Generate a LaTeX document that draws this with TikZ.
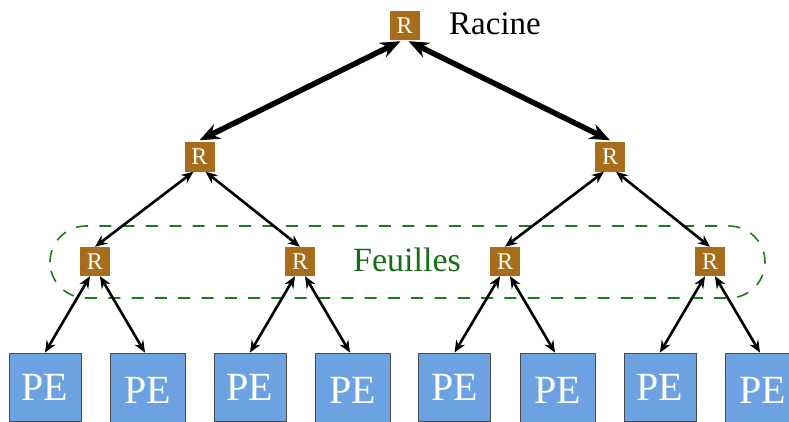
\documentclass[tikz,border=0pt]{standalone}
\usepackage{fontspec}
\setmainfont{Liberation Serif}
\usetikzlibrary{arrows.meta}
\definecolor{rbrown}{RGB}{168,109,26}
\definecolor{peblue}{RGB}{108,162,226}
\definecolor{leafgreen}{RGB}{20,110,20}
\definecolor{dashgreen}{RGB}{25,125,25}
\tikzset{
  rbox/.style={fill=rbrown, text=white, minimum width=30pt, minimum height=29pt, inner sep=0pt, font=\fontsize{24}{24}\selectfont},
  pebox/.style={fill=peblue, draw=black!70, line width=0.8pt, text=white, inner sep=0pt, font=\fontsize{40}{40}\selectfont},
  pel/.style={pebox, minimum width=72pt, minimum height=68pt},
  per/.style={pebox, minimum width=75pt, minimum height=75pt},
  thick link/.style={line width=5.5pt, {Stealth[length=20pt,width=16pt]}-{Stealth[length=20pt,width=16pt]}},
  thin link/.style={line width=2.6pt, {Stealth[length=12pt,width=10pt]}-{Stealth[length=12pt,width=10pt]}},
}
\begin{document}
\begin{tikzpicture}[x=1pt,y=1pt]
\useasboundingbox (0,0) rectangle (789,421);
\clip (0,0) rectangle (789,421);
\fill[white] (0,0) rectangle (789,421);
% leaves group
\draw[dashgreen, line width=1.6pt, dash pattern=on 12pt off 11.3pt, rounded corners=36pt] (50,123) rectangle (765,195);
\node[leafgreen, anchor=base west, inner sep=0pt, font=\fontsize{34}{34}\selectfont] (feuilles) at (353,150) {Feuilles};
% routers
\node[rbox] (root) at (404.5,395.5) {R};
\node[anchor=base west, inner sep=0pt, font=\fontsize{33}{33}\selectfont] (racine) at (449,386) {Racine};
\node[rbox] (l2a) at (199.5,264) {R};
\node[rbox] (l2b) at (610,264) {R};
\node[rbox] (l3a) at (95,159.5) {R};
\node[rbox] (l3b) at (300,159.5) {R};
\node[rbox] (l3c) at (505,159.5) {R};
\node[rbox] (l3d) at (710,159.5) {R};
% PEs
\node[pel] (pe1) at (45,34) {PE};
\node[per] (pe2) at (147.5,30.5) {PE};
\node[pel] (pe3) at (250,34) {PE};
\node[per] (pe4) at (352.5,30.5) {PE};
\node[pel] (pe5) at (454.5,34) {PE};
\node[per] (pe6) at (557.5,30.5) {PE};
\node[pel] (pe7) at (660,34) {PE};
\node[per] (pe8) at (762.5,30.5) {PE};
% links
\draw[thick link] ([xshift=-4pt,yshift=-1pt]root.south) -- ([yshift=2pt]l2a.north);
\draw[thick link] ([xshift=4pt,yshift=-1pt]root.south) -- ([yshift=2pt]l2b.north);
\draw[thin link] ([xshift=-6pt]l2a.south) -- (l3a.north);
\draw[thin link] ([xshift=6pt]l2a.south) -- (l3b.north);
\draw[thin link] ([xshift=-6pt]l2b.south) -- (l3c.north);
\draw[thin link] ([xshift=6pt]l2b.south) -- (l3d.north);
\draw[thin link] ([xshift=-5pt]l3a.south) -- (pe1.north);
\draw[thin link] ([xshift=5pt]l3a.south) -- ([xshift=-2.5pt]pe2.north);
\draw[thin link] ([xshift=-5pt]l3b.south) -- (pe3.north);
\draw[thin link] ([xshift=5pt]l3b.south) -- ([xshift=-2.5pt]pe4.north);
\draw[thin link] ([xshift=-5pt]l3c.south) -- (pe5.north);
\draw[thin link] ([xshift=5pt]l3c.south) -- ([xshift=-2.5pt]pe6.north);
\draw[thin link] ([xshift=-5pt]l3d.south) -- (pe7.north);
\draw[thin link] ([xshift=5pt]l3d.south) -- ([xshift=-2.5pt]pe8.north);
\end{tikzpicture}
\end{document}
